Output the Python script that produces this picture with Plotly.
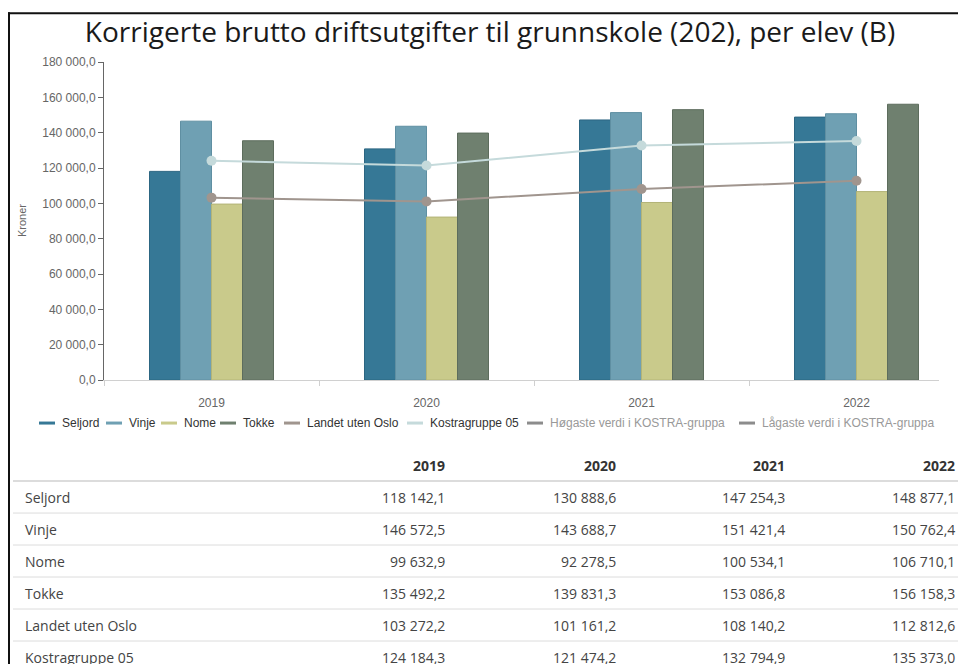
import plotly.graph_objects as go

# ---------------- data ----------------
years = ["2019", "2020", "2021", "2022"]
seljord = [118142.1, 130888.6, 147254.3, 148877.1]
vinje = [146572.5, 143688.7, 151421.4, 150762.4]
nome = [99632.9, 92278.5, 100534.1, 106710.1]
tokke = [135492.2, 139831.3, 153086.8, 156158.3]
landet = [103272.2, 101161.2, 108140.2, 112812.6]
kostra = [124184.3, 121474.2, 132794.9, 135373.0]

bar_names = ["Seljord", "Vinje", "Nome", "Tokke"]
bar_values = [seljord, vinje, nome, tokke]
bar_colors = ["#367896", "#6fa0b3", "#c9ca8b", "#6f806f"]
bar_edges = ["#2c6682", "#5f8fa2", "#b3b477", "#5d6d5d"]

line_names = ["Landet uten Oslo", "Kostragruppe 05"]
line_values = [landet, kostra]
line_colors = ["#a0958e", "#c5dadb"]

legend_names = ["Seljord", "Vinje", "Nome", "Tokke", "Landet uten Oslo",
                "Kostragruppe 05", "Høgaste verdi i KOSTRA-gruppa",
                "Lågaste verdi i KOSTRA-gruppa"]
legend_colors = bar_colors + line_colors + ["#8c8c8c", "#8c8c8c"]
legend_active = [True, True, True, True, True, True, False, False]

title_text = "Korrigerte brutto driftsutgifter til grunnskole (202), per elev (B)"
y_title = "Kroner"

table_rows = ["Seljord", "Vinje", "Nome", "Tokke", "Landet uten Oslo", "Kostragruppe 05"]
table_values = [seljord, vinje, nome, tokke, landet, kostra]

# ---------------- layout helpers ----------------
REF_H = 664
W, H = 958, 671          # rendered page appears vertically scaled to 664
SY = H / REF_H           # map reference pixel rows to figure pixel rows
ML, MR, MT, MB = 13, 0, round(13 * SY), 0
PW, PH = W - ML - MR, H - MT - MB


def px(x):
    return (x - ML) / PW


def py(y):
    return (H - MB - y * SY) / PH


def fmt(v):
    return f"{v:,.1f}".replace(",", " ").replace(".", ",")


fig = go.Figure()

for name, vals, col, edge in zip(bar_names, bar_values, bar_colors, bar_edges):
    fig.add_trace(go.Bar(x=years, y=vals, name=name, marker_color=col,
                         marker_line=dict(color=edge, width=1), showlegend=False))

for name, vals, col in zip(line_names, line_values, line_colors):
    fig.add_trace(go.Scatter(x=years, y=vals, name=name, mode="lines+markers",
                             line=dict(color=col, width=2),
                             marker=dict(color=col, size=10), showlegend=False))

shapes = []
annotations = []

# frame
shapes.append(dict(type="line", xref="paper", yref="paper", x0=px(9), x1=px(9),
                   y0=py(12), y1=py(REF_H + 10), line=dict(color="#111", width=2)))
shapes.append(dict(type="line", xref="paper", yref="paper", x0=px(8), x1=px(W + 2),
                   y0=py(13), y1=py(13), line=dict(color="#111", width=2)))

# y-axis title
annotations.append(dict(text=y_title, xref="paper", yref="paper", x=px(22), y=py(221),
                        showarrow=False, textangle=-90, xanchor="center", yanchor="middle",
                        font=dict(family="Liberation Sans, Arial", size=11, color="#666")))

# legend (manual)
legend_x = [39, 106, 161, 220, 284, 407, 527, 739]
legend_y = 423
for name, col, act, lx in zip(legend_names, legend_colors, legend_active, legend_x):
    shapes.append(dict(type="line", xref="paper", yref="paper", x0=px(lx), x1=px(lx + 16),
                       y0=py(legend_y), y1=py(legend_y), line=dict(color=col, width=3)))
    annotations.append(dict(text=name, xref="paper", yref="paper", x=px(lx + 21), y=py(legend_y),
                            showarrow=False, xanchor="left", yanchor="middle",
                            font=dict(family="Liberation Sans, Arial", size=12,
                                      color="#333" if act else "#999")))

# table (manual)
col_right = [447, 618, 787, 957]
header_y = 465
row_h = 32
first_row_y = 497
tfont = "Open Sans, Noto Sans, sans-serif"
for yr, cx in zip(years, col_right):
    annotations.append(dict(text=f"<b>{yr}</b>", xref="paper", yref="paper", x=px(cx), y=py(header_y),
                            showarrow=False, xanchor="right", yanchor="middle",
                            font=dict(family=tfont, size=14, color="#333")))
for i, (lab, vals) in enumerate(zip(table_rows, table_values)):
    ry = first_row_y + i * row_h
    shapes.append(dict(type="line", xref="paper", yref="paper", x0=px(13), x1=px(W + 2),
                       y0=py(ry - 16), y1=py(ry - 16),
                       line=dict(color="#dcdcdc", width=2 if i == 0 else 1)))
    annotations.append(dict(text=lab, xref="paper", yref="paper", x=px(23), y=py(ry),
                            showarrow=False, xanchor="left", yanchor="middle",
                            font=dict(family=tfont, size=14, color="#444")))
    for v, cx in zip(vals, col_right):
        annotations.append(dict(text=fmt(v), xref="paper", yref="paper", x=px(cx), y=py(ry),
                                showarrow=False, xanchor="right", yanchor="middle",
                                font=dict(family=tfont, size=14, color="#444")))

cat_w = 215
plot_l, plot_r = 104, 939
x_range = [-0.5, -0.5 + (plot_r - plot_l) / cat_w]

fig.update_layout(
    width=W, height=H,
    margin=dict(l=ML, r=MR, t=MT, b=MB),
    paper_bgcolor="white", plot_bgcolor="white",
    separators=", ",
    barmode="group", bargap=1 - 124 / 215, bargroupgap=0,
    title=dict(text=title_text, x=px(490), xref="paper", xanchor="center",
               y=1 - 32 * SY / H, yref="container", yanchor="middle",
               font=dict(family="Open Sans, sans-serif", size=28, color="#1a1a1a")),
    xaxis=dict(type="category", domain=[px(plot_l), px(plot_r)], range=x_range,
               showgrid=False, showline=True, linecolor="#d0d0d0", linewidth=1,
               ticks="outside", tickson="boundaries", ticklen=5, tickcolor="#d0d0d0",
               ticklabelstandoff=12,
               tickfont=dict(family="Liberation Sans, Arial", size=12, color="#666"),
               fixedrange=True),
    yaxis=dict(domain=[py(380), py(62)], range=[0, 180000], dtick=20000,
               tickformat=",.1f", showgrid=False, zeroline=False,
               showline=True, linecolor="#666", linewidth=1,
               ticks="outside", ticklen=5, tickcolor="#666",
               tickfont=dict(family="Liberation Sans, Arial", size=12, color="#666"),
               fixedrange=True),
    shapes=shapes,
    annotations=annotations,
    showlegend=False,
)

fig.write_html(
    "out.html",
    config={"displayModeBar": False},
    post_script="document.body.style.margin='0';document.documentElement.style.overflow='hidden';document.body.style.overflow='hidden';",
)
